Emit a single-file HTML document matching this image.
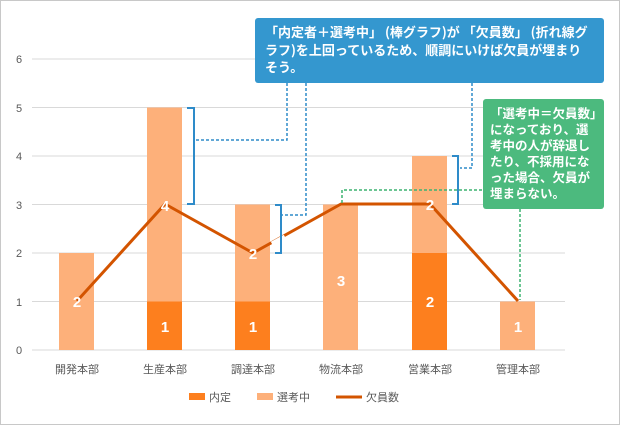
<!DOCTYPE html>
<html><head><meta charset="utf-8"><style>
body{margin:0;background:#fff}
svg{display:block;font-family:"Liberation Sans","Noto Sans CJK JP",sans-serif}
.box{position:absolute;color:#fff;font-family:"Noto Sans CJK JP",sans-serif;font-weight:bold;font-size:13px;line-height:17.5px;border-radius:3px;box-sizing:border-box;white-space:nowrap;overflow:hidden}
</style></head><body>
<div style="position:relative;width:620px;height:425px">
<svg width="620" height="425">
<rect x="0.5" y="0.5" width="619" height="424" fill="#fff" stroke="#c8c8c8"/>
<g stroke="#d9d9d9" stroke-width="1">
<line x1="32" x2="565" y1="350" y2="350"/><line x1="32" x2="565" y1="301.5" y2="301.5"/>
<line x1="32" x2="565" y1="253" y2="253"/><line x1="32" x2="565" y1="204.5" y2="204.5"/>
<line x1="32" x2="565" y1="156" y2="156"/><line x1="32" x2="565" y1="107.5" y2="107.5"/>
<line x1="32" x2="565" y1="59" y2="59"/>
</g>
<g font-size="11" fill="#595959" text-anchor="middle">
<text x="19" y="354">0</text><text x="19" y="306">1</text><text x="19" y="257">2</text><text x="19" y="209">3</text><text x="19" y="160">4</text><text x="19" y="112">5</text><text x="19" y="63">6</text>
<text x="77" y="373">開発本部</text><text x="165" y="373">生産本部</text><text x="253" y="373">調達本部</text><text x="341" y="373">物流本部</text><text x="430" y="373">営業本部</text><text x="518" y="373">管理本部</text>
</g>
<g fill="#fdb07a">
<rect x="59" y="253" width="35" height="97"/>
<rect x="147" y="107.5" width="35" height="194"/>
<rect x="235" y="204.5" width="35" height="97"/>
<rect x="323" y="204.5" width="35" height="145.5"/>
<rect x="412" y="156" width="35" height="97"/>
<rect x="500" y="301.5" width="35" height="48.5"/>
</g>
<g fill="#fd7f1e">
<rect x="147" y="301.5" width="35" height="48.5"/>
<rect x="235" y="301.5" width="35" height="48.5"/>
<rect x="412" y="253" width="35" height="97"/>
</g>
<polyline points="77,301 165,204 253,253 341,204 430,204 518,301" fill="none" stroke="#d35400" stroke-width="3" stroke-linejoin="round"/>
<line x1="272" y1="244" x2="285" y2="237" stroke="#fff" stroke-width="5"/>
<g fill="#fff" font-weight="bold" font-size="15" text-anchor="middle">
<text x="77" y="307">2</text><text x="165" y="211">4</text><text x="253" y="259">2</text><text x="341" y="286">3</text><text x="430" y="210">2</text>
<text x="165" y="332">1</text><text x="253" y="332">1</text><text x="430" y="307">2</text><text x="518" y="332">1</text>
</g>
<g fill="none" stroke="#2e8bc9" stroke-width="2">
<polyline points="187,108 194,108 194,204 187,204"/>
<polyline points="275,205 281,205 281,253 275,253"/>
<polyline points="452,156 458,156 458,204 452,204"/>
</g>
<g fill="none" stroke="#2e8bc9" stroke-width="1.5" stroke-dasharray="3,2">
<polyline points="287,83 287,140 196,140"/>
<polyline points="306,83 306,215 282,215"/>
<polyline points="472,83 472,168 460,168"/>
</g>
<g fill="none" stroke="#3cb371" stroke-width="1.5" stroke-dasharray="3,2">
<polyline points="342,203 342,190 483,190"/>
<polyline points="520,209 520,300"/>
</g>
<rect x="189" y="393" width="16" height="7" fill="#fd7f1e"/>
<text x="209" y="401" font-size="11" fill="#595959">内定</text>
<rect x="257" y="393" width="16" height="7" fill="#fdb07a"/>
<text x="277" y="401" font-size="11" fill="#595959">選考中</text>
<line x1="336" y1="397" x2="362" y2="397" stroke="#d35400" stroke-width="3"/>
<text x="366" y="401" font-size="11" fill="#595959">欠員数</text>
</svg>
<div class="box" style="left:255px;top:18px;width:349px;height:65px;background:#3497cf;padding:5px 0 0 10px">「内定者＋選考中」 (棒グラフ)が 「欠員数」 (折れ線グ<br>ラフ)を上回っているため、順調にいけば欠員が埋まり<br>そう。</div>
<div class="box" style="left:483px;top:99px;width:121px;height:110px;background:#4cba7e;padding:6px 0 0 7px;line-height:16px;font-size:12.5px">「選考中＝欠員数」<br>になっており、選<br>考中の人が辞退し<br>たり、不採用にな<br>った場合、欠員が<br>埋まらない。</div>
</div>
</body></html>
